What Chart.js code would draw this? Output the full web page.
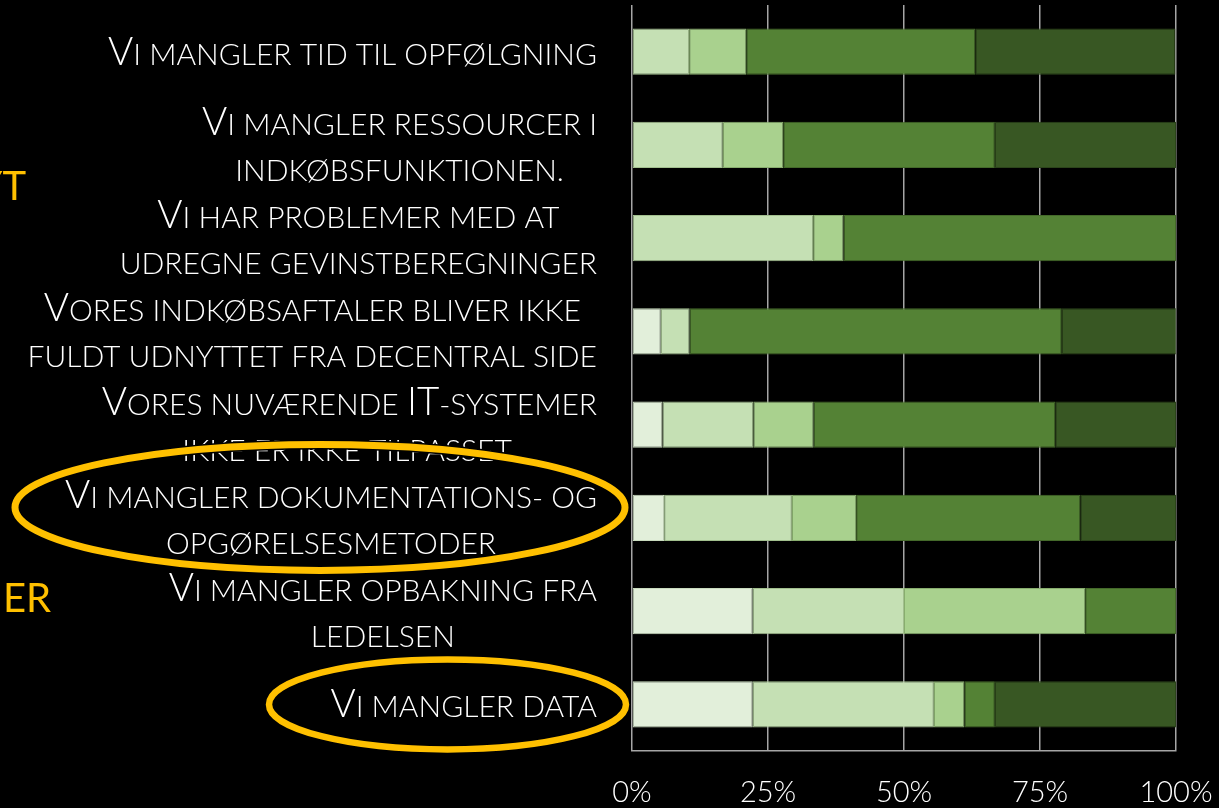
<!DOCTYPE html>
<html><head><meta charset="utf-8">
<script src="https://cdn.jsdelivr.net/npm/chart.js@4.4.1/dist/chart.umd.min.js"></script>
<style>html,body{margin:0;padding:0;background:#000;overflow:hidden}canvas{display:block}</style>
</head><body>
<canvas id="c" width="1219" height="808"></canvas>
<script>
// ---- data ----
const categories = [
  ["Vi mangler tid til opfølgning"],
  ["Vi mangler ressourcer i", "indkøbsfunktionen."],
  ["Vi har problemer med at", "udregne gevinstberegninger"],
  ["Vores indkøbsaftaler bliver ikke", "fuldt udnyttet fra decentral side"],
  ["Vores nuværende IT-systemer", "ikke er ikke tilpasset."],
  ["Vi mangler dokumentations- og", "opgørelsesmetoder"],
  ["Vi mangler opbakning fra", "ledelsen"],
  ["Vi mangler data"]
];
const seriesNames = ["Serie 1", "Serie 2", "Serie 3", "Serie 4", "Serie 5"];
const serie1 = [0, 0, 0, 5.3, 5.6, 5.9, 22.2, 22.2];
const serie2 = [10.5, 16.7, 33.3, 5.3, 16.7, 23.5, 27.8, 33.3];
const serie3 = [10.5, 11.1, 5.6, 0, 11.1, 11.8, 33.3, 5.6];
const serie4 = [42.1, 38.9, 61.1, 68.4, 44.4, 41.2, 16.7, 5.6];
const serie5 = [36.8, 33.3, 0, 21.1, 22.2, 17.6, 0, 33.3];
const xTickValues = [0, 25, 50, 75, 100];
const xTickLabels = ["0%", "25%", "50%", "75%", "100%"];
const sideTexts = ["YT", "ER"];

// ---- styles ----
const fills = ["#E2EFDA", "#C5E0B4", "#A9D18E", "#548235", "#385723"];
const borders = ["#C9DBBE", "#A2BF8E", "#88AD6E", "#44692A", "#2C441B"];
const FONT = "Lato, 'Open Sans', sans-serif";
const BIG = 38.5, SMALL = 30;

function isUpper(ch) { return ch !== ch.toLowerCase() && ch === ch.toUpperCase(); }
function runs(text) {
  const out = [];
  for (const ch of text) {
    const big = isUpper(ch);
    const c = big ? ch : ch.toUpperCase();
    if (out.length && out[out.length - 1].big === big) out[out.length - 1].t += c;
    else out.push({ big, t: c });
  }
  return out;
}
function setF(ctx, big) { ctx.font = "300 " + (big ? BIG : SMALL) + "px " + FONT; }
function measureSC(ctx, text) {
  let w = 0;
  for (const r of runs(text)) { setF(ctx, r.big); w += ctx.measureText(r.t).width; }
  return w;
}
function drawSC(ctx, text, x, y) {
  for (const r of runs(text)) { setF(ctx, r.big); ctx.fillText(r.t, x, y); x += ctx.measureText(r.t).width; }
}

const labelPlugin = {
  id: 'scLabels',
  afterDraw(chart) {
    const ctx = chart.ctx, ys = chart.scales.y, area = chart.chartArea;
    ctx.save();
    ctx.fillStyle = "#FFFFFF";
    ctx.textAlign = "left";
    ctx.textBaseline = "alphabetic";
    chart.data.labels.forEach((lines, i) => {
      const cy = ys.getPixelForValue(i);
      const widths = lines.map(l => measureSC(ctx, l));
      const maxW = Math.max(...widths);
      const center = area.left - 35 - maxW / 2;
      lines.forEach((l, j) => {
        const base = cy + 13 + (j - (lines.length - 1) / 2) * 46;
        drawSC(ctx, l, center - widths[j] / 2, base);
      });
    });
    // partial orange texts at the left edge
    ctx.fillStyle = "#FFC000";
    ctx.font = "400 40px " + FONT;
    ctx.textAlign = "right";
    ctx.fillText(sideTexts[0], 26, 200);
    ctx.textAlign = "left";
    ctx.fillText(sideTexts[1], 3, 612);
    // highlight ellipses
    const ell = (idx, dy, cx, rx, ry, lw) => {
      const cy = ys.getPixelForValue(idx) + dy;
      ctx.beginPath();
      ctx.ellipse(cx, cy, rx, ry, 0, 0, Math.PI * 2);
      ctx.strokeStyle = "#000"; ctx.lineWidth = lw + 3; ctx.stroke();
      ctx.strokeStyle = "#FFC000"; ctx.lineWidth = lw; ctx.stroke();
    };
    ell(5, -10.5, 320, 305, 63, 7);
    ell(7, 0, 447.5, 178.5, 45, 6.5);
    ctx.restore();
  }
};

const datasets = [serie1, serie2, serie3, serie4, serie5].map((d, k) => ({
  label: seriesNames[k],
  data: d,
  backgroundColor: fills[k],
  borderColor: borders[k],
  borderWidth: 1,
  borderSkipped: false,
  categoryPercentage: 1,
  barPercentage: 0.495
}));

new Chart(document.getElementById('c'), {
  type: 'bar',
  data: { labels: categories, datasets },
  options: {
    indexAxis: 'y',
    responsive: false,
    animation: false,
    layout: { padding: { left: 632, right: 43, top: 5, bottom: 0 } },
    plugins: { legend: { display: false }, tooltip: { enabled: false } },
    scales: {
      y: { stacked: true, display: false },
      x: {
        stacked: true, min: 0, max: 100,
        afterBuildTicks: s => { s.ticks = xTickValues.map(v => ({ value: v })); },
        afterFit: s => { s.height = 57; s.paddingLeft = 0; s.paddingRight = 0; },
        grid: { color: "#A6A6A6", lineWidth: 1.5, drawTicks: false },
        border: { color: "#A6A6A6", width: 1.5 },
        ticks: {
          color: "#FFFFFF", padding: 24,
          font: { family: FONT, size: 29, weight: 300 },
          callback: (v, i) => xTickLabels[i]
        }
      }
    }
  },
  plugins: [labelPlugin]
});
</script>
</body></html>
